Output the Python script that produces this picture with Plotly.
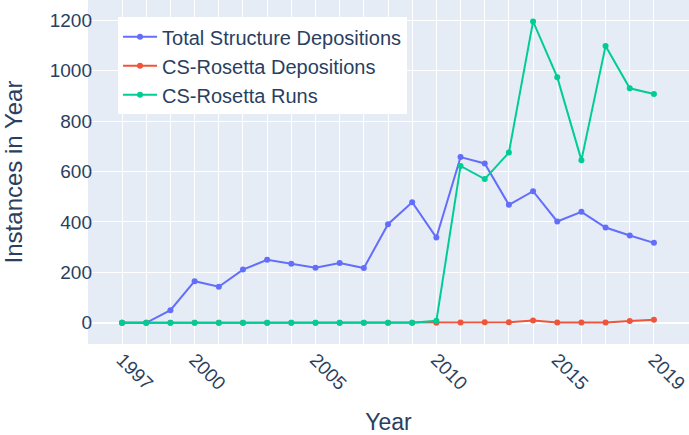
import plotly.graph_objects as go

years = list(range(1997, 2020))
total_depositions = [0, 0, 50, 165, 143, 211, 250, 234, 218, 237, 217, 391,
                     478, 338, 657, 632, 468, 522, 402, 440, 378, 346, 317]
cs_depositions = [0, 0, 0, 0, 0, 0, 0, 0, 0, 0, 0, 0,
                  0, 0, 1, 2, 2, 9, 1, 1, 1, 7, 12]
cs_runs = [0, 0, 0, 0, 0, 0, 0, 0, 0, 0, 0, 0,
           0, 8, 622, 570, 675, 1195, 974, 645, 1098, 930, 907]
tick_labels = {1997: "1997", 2000: "2000", 2005: "2005", 2010: "2010", 2015: "2015", 2019: "2019"}

FONT = "Liberation Sans, Arial, sans-serif"

fig = go.Figure()
fig.add_trace(go.Scatter(x=years, y=total_depositions, mode="lines+markers",
                         name="Total Structure Depositions", line=dict(color="#636efa")))
fig.add_trace(go.Scatter(x=years, y=cs_depositions, mode="lines+markers",
                         name="CS-Rosetta Depositions", line=dict(color="#EF553B")))
fig.add_trace(go.Scatter(x=years, y=cs_runs, mode="lines+markers",
                         name="CS-Rosetta Runs", line=dict(color="#00cc96")))

fig.update_layout(
    template="plotly",
    width=689, height=435,
    margin=dict(l=88, r=0, t=0, b=91),
    font=dict(family=FONT, color="#2a3f5f", size=19),
    legend=dict(x=0.05, y=0.95, xanchor="left", yanchor="top",
                bgcolor="white", font=dict(size=20), itemwidth=34),
    xaxis=dict(
        title=dict(text="Year", font=dict(size=23), standoff=30),
        tickmode="array",
        tickvals=years,
        ticktext=[tick_labels.get(y, "") for y in years],
        tickangle=45,
        range=[1995.59, 2020.45],
        tickfont=dict(size=19),
        automargin=False,
        ticklabeloverflow="allow",
    ),
    yaxis=dict(
        title=dict(text="Instances in Year", font=dict(size=24), standoff=22),
        range=[-84, 1280],
        dtick=200,
        tickfont=dict(size=19),
        automargin=False,
        ticklabelstandoff=-5,
    ),
)

fig.write_html("out.html",
               config={"displayModeBar": False},
               post_script="document.body.style.margin='0';document.body.style.overflow='hidden';")
